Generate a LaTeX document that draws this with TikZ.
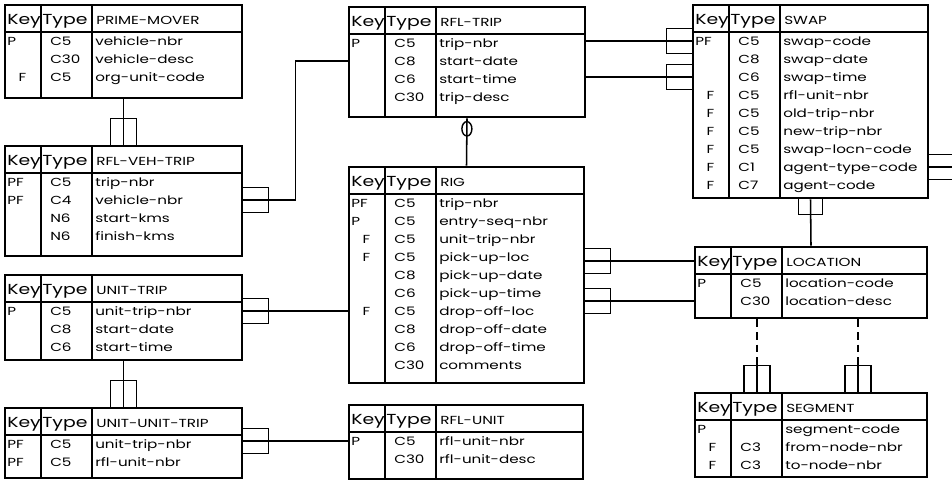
\documentclass[tikz,border=0pt]{standalone}
\usepackage{fontspec}
\setmainfont{Poppins}
\newfontfamily\widefont[FakeStretch=1.3]{Poppins}
\usepackage{tikz}
\usetikzlibrary{fit,calc,shapes.geometric}

\newcommand{\tablefont}{\widefont\fontsize{8.3}{10}\selectfont}
\newcommand{\headfont}{\widefont\fontsize{10.3}{11}\selectfont}
\newcommand{\fk}{\hspace*{8pt}F}
% #1 name, #2 left, #3 top, #4 right, #5 bottom, #6 title, #7 rows key/type/name
\newcommand{\ertable}[7]{%
  \node[entity, fit={(#2,#3) (#4,#5)}] (#1) {};
  \draw[divider] (#2+36,#3) -- (#2+36,#5) (#2+87,#3) -- (#2+87,#5);
  \draw[entity] (#2,#3+27) -- (#4,#3+27);
  \coordinate (#1-0) at (#2,#3+14);
  \node[cell, font=\headfont] at (#2+2,#3+15) {Key};
  \node[cell, font=\headfont] at (#2+37,#3+15) {Type};
  \node[cell] at (#2+91,#3+15) {#6};
  \foreach \ky/\ty/\nm [count=\i] in {#7}{
    \pgfmathsetmacro\ry{#3+36+18*(\i-1)}
    \coordinate (#1-\i) at (#2,\ry);
    \node[cell] at (#2+2,\ry) {\ky};
    \node[cell] at (#2+45,\ry) {\ty};
    \node[cell] at (#2+90,\ry) {\nm};
  }
}

\tikzset{
  entity/.style={draw, line width=2pt, inner sep=0pt},
  divider/.style={line width=1.2pt},
  cell/.style={anchor=west, inner sep=0pt, font=\tablefont, text height=1.5ex, text depth=.25ex},
  link/.style={line width=1.1pt},
  optional/.style={draw, ellipse, line width=1pt, inner sep=0pt, minimum width=0.25cm, minimum height=0.36cm},
  pics/feetE/.style={code={\draw[link] (0,-12.5) -| (25,12.5) -- (0,12.5);}},
  pics/feetW/.style={code={\draw[link] (0,-12.5) -| (-25,12.5) -- (0,12.5);}},
  pics/feetN/.style={code={\draw[link] (-13,0) |- (13,-26) -- (13,0);}},
  pics/feetS/.style={code={\draw[link] (-12,0) |- (12,15) -- (12,0);}}
}

\begin{document}
\begin{tikzpicture}[x=0.025cm,y=-0.025cm]
\useasboundingbox (0,0) rectangle (952,482);
\clip (0,0) rectangle (952,482);

% entities
\ertable{primeMover}{5}{5}{242}{98}{PRIME-MOVER}{P/C5/vehicle-nbr, /C30/vehicle-desc, \fk/C5/org-unit-code}
\ertable{rflVehTrip}{5}{146}{242}{256}{RFL-VEH-TRIP}{PF/C5/trip-nbr, PF/C4/vehicle-nbr, /N6/start-kms, /N6/finish-kms}
\ertable{unitTrip}{5}{275}{242}{360}{UNIT-TRIP}{P/C5/unit-trip-nbr, /C8/start-date, /C6/start-time}
\ertable{unitUnitTrip}{5}{408}{242}{478}{UNIT-UNIT-TRIP}{PF/C5/unit-trip-nbr, PF/C5/rfl-unit-nbr}
\ertable{rflTrip}{349}{7}{585}{117}{RFL-TRIP}{P/C5/trip-nbr, /C8/start-date, /C6/start-time, /C30/trip-desc}
\ertable{rig}{349}{167}{584}{383}{RIG}{PF/C5/trip-nbr, P/C5/entry-seq-nbr, \fk/C5/unit-trip-nbr, \fk/C5/pick-up-loc, /C8/pick-up-date, /C6/pick-up-time, \fk/C5/drop-off-loc, /C8/drop-off-date, /C6/drop-off-time, /C30/comments}
\ertable{rflUnit}{349}{405}{583}{479}{RFL-UNIT}{P/C5/rfl-unit-nbr, /C30/rfl-unit-desc}
\ertable{swap}{693}{5}{928}{198}{SWAP}{PF/C5/swap-code, /C8/swap-date, /C6/swap-time, \fk/C5/rfl-unit-nbr, \fk/C5/old-trip-nbr, \fk/C5/new-trip-nbr, \fk/C5/swap-locn-code, \fk/C1/agent-type-code, \fk/C7/agent-code}
\ertable{location}{695}{247}{927}{318}{LOCATION}{P/C5/location-code, /C30/location-desc}
\ertable{segment}{695}{393}{927}{477}{SEGMENT}{P//segment-code, \fk/C3/from-node-nbr, \fk/C3/to-node-nbr}

% relationships
\draw[link] (primeMover.south) -- (rflVehTrip.north);
\pic at (rflVehTrip.north) {feetN};
\draw[link] (rflVehTrip.east |- rflVehTrip-2) -- ++(52,0) |- (rflTrip.west |- rflTrip-2);
\pic at (rflVehTrip.east |- rflVehTrip-2) {feetE};
\draw[link] (unitTrip.east |- unitTrip-1) -- (rig.west |- unitTrip-1);
\pic at (unitTrip.east |- unitTrip-1) {feetE};
\draw[link] (unitTrip.south) -- (unitUnitTrip.north);
\pic at (unitUnitTrip.north) {feetN};
\draw[link] (unitUnitTrip.east |- rflUnit-1) -- (rflUnit.west |- rflUnit-1);
\pic at (unitUnitTrip.east |- rflUnit-1) {feetE};
\draw[link] (rflTrip.south) -- node[optional, pos=0.22] (opt) {} (rig.north);
\foreach \r in {1,3}{
  \draw[link] (rflTrip.east |- swap-\r) -- (swap.west |- swap-\r);
  \pic at (swap.west |- swap-\r) {feetW};
}
\foreach \r in {0,2}{
  \draw[link] (rig.east |- location-\r) -- (location.west |- location-\r);
  \pic at (rig.east |- location-\r) {feetE};
}
\draw[link] (swap.south) -- (location.north);
\pic at (swap.south) {feetS};
\foreach \dx in {-54,47}{
  \draw[link, dash pattern=on 5.5pt off 3.5pt] ($(location.south)+(\dx,0)$) -- ($(segment.north)+(\dx,-26)$);
  \draw[link] ($(segment.north)+(\dx,-26)$) -- ($(segment.north)+(\dx,0)$);
  \pic at ($(segment.north)+(\dx,0)$) {feetN};
}
\coordinate (offEdge) at (990,167);
\draw[link] (swap.east |- swap-8) -- (offEdge |- swap-8);
\pic at (swap.east |- swap-8) {feetE};
\end{tikzpicture}
\end{document}
